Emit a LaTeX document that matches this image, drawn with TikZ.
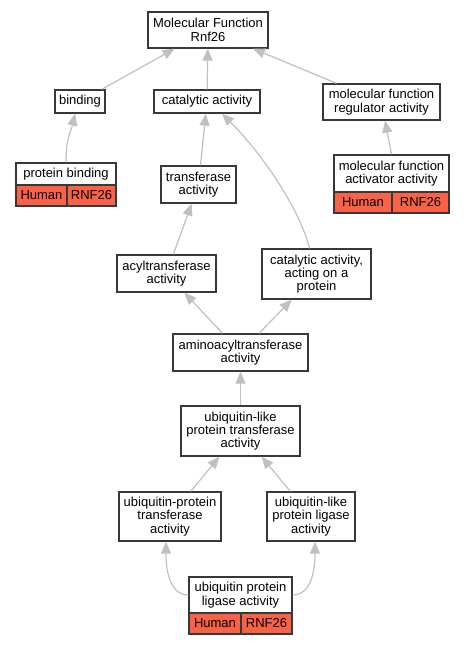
\documentclass[tikz,border=0pt]{standalone}
\usepackage{fontspec}
\setmainfont{Liberation Sans}
\usepackage{tikz}
\usetikzlibrary{arrows.meta}
\definecolor{edgegrey}{RGB}{192,192,192}
\definecolor{boxgrey}{RGB}{56,56,56}
\definecolor{tomato}{RGB}{250,98,72}

\begin{document}
\begin{tikzpicture}[x=1pt,y=-1pt,
    term/.style={draw=boxgrey, line width=1.3pt, fill=white, align=center, inner sep=0pt, font=\fontsize{13}{13.3}\selectfont},
    cell/.style={term, fill=tomato, minimum height=21},
    isa/.style={draw=edgegrey, line width=1.2pt, -{Triangle[length=12pt,width=10pt]}}]
    \useasboundingbox (0,0) rectangle (464,645);
    % terms
    \node[term, minimum width=120, minimum height=36] (mf) at (208,30) {Molecular Function\\Rnf26};
    \node[term, minimum width=50, minimum height=23] (binding) at (80,101.5) {binding};
    \node[term, minimum width=106, minimum height=23] (cat) at (207,101.5) {catalytic activity};
    \node[term, minimum width=117, minimum height=36] (reg) at (381.5,102) {molecular function\\regulator activity};
    \node[term, minimum width=75, minimum height=37] (trans) at (198.5,184.5) {transferase\\activity};
    \node[term, minimum width=99, minimum height=37] (acyl) at (166.5,273.5) {acyltransferase\\activity};
    \node[term, minimum width=109, minimum height=50] (onprot) at (316.5,274) {catalytic activity,\\acting on a\\protein};
    \node[term, minimum width=135, minimum height=37] (amino) at (240.5,352.5) {aminoacyltransferase\\activity};
    \node[term, minimum width=119, minimum height=50] (ubltrans) at (240.5,431) {ubiquitin-like\\protein transferase\\activity};
    \node[term, minimum width=102, minimum height=49] (uptrans) at (170,516.5) {ubiquitin-protein\\transferase\\activity};
    \node[term, minimum width=88, minimum height=49] (ubllig) at (311,516.5) {ubiquitin-like\\protein ligase\\activity};
    % annotated terms
    \node[term, minimum width=100, minimum height=22] (pb) at (66,174) {protein binding};
    \node[cell, minimum width=51] (pbhuman) at (41.5,195.5) {Human};
    \node[cell, minimum width=49] (pbgene) at (91.5,195.5) {RNF26};
    \node[term, minimum width=115, minimum height=37] (act) at (391.5,173.5) {molecular function\\activator activity};
    \node[cell, minimum width=58] (acthuman) at (363,202.5) {Human};
    \node[cell, minimum width=57] (actgene) at (420.5,202.5) {RNF26};
    \node[term, minimum width=103, minimum height=36] (uplig) at (240.5,595) {ubiquitin protein\\ligase activity};
    \node[cell, minimum width=52] (uplhuman) at (215,623.5) {Human};
    \node[cell, minimum width=51] (uplgene) at (266.5,623.5) {RNF26};
    % is-a arrows
    \draw[isa] (binding) -- (mf);
    \draw[isa] (cat) -- (mf);
    \draw[isa] (reg) -- (mf);
    \draw[isa] (pb.north) .. controls +(0,-25) and +(-4,18) .. ([xshift=-5]binding.south);
    \draw[isa] (act.north) -- (reg);
    \draw[isa] (trans) -- (cat);
    \draw[isa] ([xshift=-7]onprot.north) .. controls +(-10,-40) and +(40,40) .. ([xshift=15]cat.south);
    \draw[isa] (acyl) -- (trans);
    \draw[isa] (amino) -- (acyl);
    \draw[isa] (amino) -- (onprot);
    \draw[isa] (ubltrans) -- (amino);
    \draw[isa] (uptrans) -- (ubltrans);
    \draw[isa] (ubllig) -- (ubltrans);
    %curved arrows from the bottom term
    \draw[isa] (uplig.west) .. controls +(-20,0) and +(0,25) .. ([xshift=-4]uptrans.south);
    \draw[isa] (uplig.east) .. controls +(20,0) and +(0,25) .. ([xshift=4]ubllig.south);
\end{tikzpicture}
\end{document}
